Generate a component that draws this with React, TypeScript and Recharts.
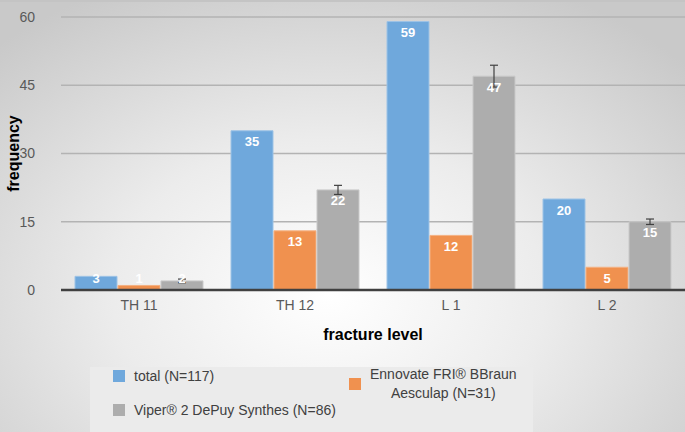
import { BarChart, Bar, XAxis, YAxis, CartesianGrid, LabelList, ErrorBar } from 'recharts'

const levels = ['TH 11', 'TH 12', 'L 1', 'L 2']
const total = [3, 35, 59, 20]
const ennovate = [1, 13, 12, 5]
const viper = [2, 22, 47, 15]
const viperErr = [0.4, 1, 2.4, 0.6]
const yTicks = [0, 15, 30, 45, 60]

const seriesNames = {
  total: 'total (N=117)',
  ennovate: ['Ennovate FRI® BBraun', 'Aesculap (N=31)'],
  viper: 'Viper® 2 DePuy Synthes (N=86)',
}

const FONT = '"Liberation Sans", Arial, sans-serif'
const BLUE = '#6fa8dc'
const ORANGE = '#f0914f'
const GREY = '#adadad'

const data = levels.map((level, i) => ({
  level,
  total: total[i],
  ennovate: ennovate[i],
  viper: viper[i],
  viperErr: viperErr[i],
}))

// inside-end label, pushed up when the bar is too short to hold it (as Excel does)
function BarValue(props: any) {
  const { x, y, width, height, value } = props
  const bottom = y + height
  const cy = Math.min(y + 11, bottom - 12)
  return (
    <text
      x={x + width / 2}
      y={cy}
      textAnchor="middle"
      dominantBaseline="central"
      fill="#ffffff"
      fontSize={13}
      fontWeight={700}
      fontFamily={FONT}
    >
      {value}
    </text>
  )
}

function Swatch({ color }: { color: string }) {
  return <span style={{ display: 'inline-block', width: 12, height: 12, background: color }} />
}

export default function App() {
  return (
    <div
      style={{
        position: 'absolute', left: 0, top: 0, width: 685, height: 432,
        background: 'radial-gradient(ellipse 70% 80% at 48% 68%, #ffffff 0%, #ececec 45%, #c9c9c9 100%)',
        fontFamily: FONT,
        boxSizing: 'border-box',
        borderTop: '2px solid #c4c4c4',
      }}
    >
      <BarChart
        width={685}
        height={430}
        data={data}
        margin={{ top: 15, right: 0, bottom: 90, left: 0 }}
        barCategoryGap={14}
        barGap={1}
      >
        <CartesianGrid vertical={false} stroke="#b3b3b3" strokeWidth={1.5} />
        <XAxis
          dataKey="level"
          height={52}
          tickLine={false}
          axisLine={{ stroke: '#404040', strokeWidth: 2.5 }}
          tick={{ fontSize: 14, fill: '#595959', fontFamily: FONT }}
          tickMargin={4}
          label={{ value: 'fracture level', position: 'insideBottom', offset: 2, fontSize: 16, fontWeight: 700, fill: '#000', fontFamily: FONT }}
        />
        <YAxis
          width={61}
          domain={[0, 60]}
          ticks={yTicks}
          tickLine={false}
          axisLine={false}
          tickSize={0}
          tickMargin={26}
          tick={{ fontSize: 14, fill: '#595959', fontFamily: FONT }}
          label={{ value: 'frequency', angle: -90, position: 'insideLeft', offset: 13, fontSize: 16, fontWeight: 700, fill: '#000', fontFamily: FONT, style: { textAnchor: 'middle' } }}
        />
        <Bar dataKey="total" fill={BLUE} stroke="#9dc3e6" strokeWidth={1} isAnimationActive={false}>
          <LabelList dataKey="total" content={BarValue} />
        </Bar>
        <Bar dataKey="ennovate" fill={ORANGE} stroke="#f4b183" strokeWidth={1} isAnimationActive={false}>
          <LabelList dataKey="ennovate" content={BarValue} />
        </Bar>
        <Bar dataKey="viper" fill={GREY} stroke="#c9c9c9" strokeWidth={1} isAnimationActive={false}>
          <LabelList dataKey="viper" content={BarValue} />
          <ErrorBar dataKey="viperErr" width={4} stroke="#404040" strokeWidth={1.2} />
        </Bar>
      </BarChart>

      <div
        style={{
          position: 'absolute', left: 90, top: 365, width: 443, height: 65,
          background: '#ebebeb', borderBottom: '1px solid #d0d0d0',
          fontSize: 14, color: '#404040',
        }}
      >
        <div style={{ position: 'absolute', left: 23, top: 1, display: 'flex', alignItems: 'center', gap: 9, height: 16 }}>
          <Swatch color={BLUE} />
          <span>{seriesNames.total}</span>
        </div>
        <div style={{ position: 'absolute', left: 23, top: 35, display: 'flex', alignItems: 'center', gap: 9, height: 16 }}>
          <Swatch color={GREY} />
          <span>{seriesNames.viper}</span>
        </div>
        <div style={{ position: 'absolute', left: 259, top: -2, display: 'flex', alignItems: 'center', gap: 9 }}>
          <Swatch color={ORANGE} />
          <span style={{ textAlign: 'center', lineHeight: '19px' }}>
            {seriesNames.ennovate[0]}<br />{seriesNames.ennovate[1]}
          </span>
        </div>
      </div>
    </div>
  )
}
